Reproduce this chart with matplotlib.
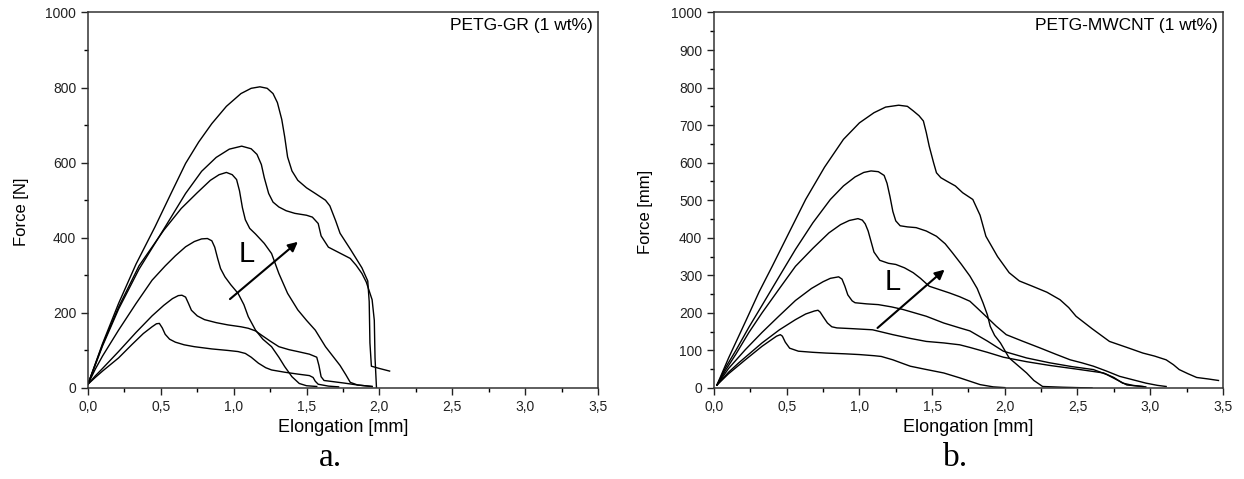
import matplotlib
matplotlib.use("Agg")
import matplotlib.pyplot as plt
from matplotlib.ticker import MultipleLocator, FuncFormatter

plt.rcParams['font.family'] = ['Liberation Sans', 'DejaVu Sans']

# ---- panel a: PETG-GR (1 wt%) ----
a1_x = [0.0, 0.05, 0.10, 0.21, 0.30, 0.38, 0.44, 0.47, 0.49, 0.51, 0.53, 0.56, 0.60, 0.66, 0.73, 0.85, 0.96, 1.03, 1.08, 1.12, 1.17, 1.22, 1.26, 1.35, 1.44, 1.52, 1.545, 1.56, 1.58, 1.65, 1.72]
a1_y = [10, 28, 45, 80, 115, 145, 163, 171, 172, 160, 143, 130, 122, 115, 110, 104, 100, 97, 92, 82, 66, 54, 48, 42, 37, 33, 28, 18, 10, 5, 3]
a2_x = [0.0, 0.05, 0.10, 0.21, 0.33, 0.44, 0.52, 0.58, 0.62, 0.645, 0.67, 0.69, 0.71, 0.75, 0.80, 0.88, 0.96, 1.05, 1.10, 1.15, 1.19, 1.25, 1.31, 1.38, 1.44, 1.52, 1.57, 1.585, 1.60, 1.62, 1.70, 1.76, 1.85, 1.95]
a2_y = [10, 32, 52, 97, 148, 192, 220, 238, 246, 247, 242, 225, 207, 192, 182, 174, 168, 163, 159, 152, 141, 125, 110, 102, 97, 90, 82, 60, 30, 20, 16, 13, 8, 4]
a3_x = [0.0, 0.05, 0.10, 0.21, 0.33, 0.44, 0.53, 0.60, 0.67, 0.73, 0.78, 0.82, 0.85, 0.87, 0.89, 0.91, 0.94, 0.98, 1.03, 1.07, 1.10, 1.15, 1.20, 1.26, 1.31, 1.35, 1.40, 1.45, 1.50, 1.57]
a3_y = [10, 50, 85, 154, 225, 287, 325, 352, 376, 390, 397, 398, 392, 375, 345, 318, 296, 275, 252, 222, 190, 154, 130, 110, 82, 57, 30, 12, 6, 4]
a4_x = [0.0, 0.10, 0.21, 0.35, 0.52, 0.64, 0.75, 0.84, 0.90, 0.95, 0.99, 1.02, 1.04, 1.06, 1.08, 1.11, 1.15, 1.21, 1.26, 1.31, 1.37, 1.44, 1.50, 1.56, 1.63, 1.68, 1.73, 1.77, 1.80, 1.85, 1.95]
a4_y = [10, 115, 215, 325, 420, 478, 520, 553, 568, 574, 568, 555, 525, 480, 448, 425, 410, 385, 358, 305, 252, 208, 180, 154, 110, 85, 60, 35, 15, 8, 4]
a5_x = [0.0, 0.10, 0.21, 0.35, 0.53, 0.67, 0.78, 0.88, 0.97, 1.055, 1.12, 1.16, 1.19, 1.21, 1.24, 1.27, 1.31, 1.36, 1.42, 1.50, 1.54, 1.58, 1.60, 1.65, 1.73, 1.80, 1.84, 1.88, 1.91, 1.95, 1.965, 1.97, 1.98]
a5_y = [10, 112, 210, 316, 429, 518, 577, 614, 636, 644, 637, 622, 595, 560, 518, 495, 482, 472, 465, 460, 455, 438, 405, 375, 359, 345, 327, 305, 282, 235, 180, 80, 0]
a6_x = [0.0, 0.10, 0.21, 0.33, 0.46, 0.57, 0.67, 0.76, 0.85, 0.95, 1.05, 1.12, 1.18, 1.23, 1.27, 1.30, 1.33, 1.35, 1.37, 1.40, 1.44, 1.50, 1.56, 1.63, 1.66, 1.70, 1.73, 1.80, 1.88, 1.92, 1.93, 1.935, 1.945, 2.00, 2.07]
a6_y = [10, 118, 225, 330, 429, 518, 598, 655, 704, 750, 784, 798, 802, 798, 784, 760, 715, 669, 615, 578, 553, 533, 518, 500, 485, 445, 412, 370, 320, 285, 230, 120, 58, 52, 45]

# ---- panel b: PETG-MWCNT (1 wt%) ----
b1_x = [0.02, 0.10, 0.215, 0.33, 0.40, 0.43, 0.456, 0.47, 0.49, 0.52, 0.58, 0.68, 0.77, 0.90, 1.00, 1.10, 1.15, 1.23, 1.30, 1.35, 1.45, 1.58, 1.69, 1.76, 1.83, 1.92, 2.0]
b1_y = [8, 38, 75, 111, 130, 138, 142, 138, 122, 106, 98, 95, 93, 91, 89, 86, 84, 75, 65, 58, 50, 40, 27, 18, 9, 3, 1]
b2_x = [0.02, 0.10, 0.17, 0.33, 0.45, 0.56, 0.63, 0.69, 0.715, 0.73, 0.75, 0.78, 0.81, 0.845, 0.95, 1.09, 1.23, 1.35, 1.46, 1.58, 1.69, 1.76, 1.88, 1.99, 2.15, 2.31, 2.50, 2.68, 2.75, 2.81, 2.88, 2.95]
b2_y = [8, 42, 67, 120, 155, 182, 197, 205, 207, 202, 190, 173, 163, 160, 158, 155, 142, 132, 124, 120, 115, 108, 95, 82, 70, 60, 50, 40, 28, 13, 7, 4]
b3_x = [0.02, 0.10, 0.215, 0.33, 0.445, 0.56, 0.67, 0.75, 0.80, 0.857, 0.88, 0.90, 0.92, 0.95, 0.97, 1.05, 1.13, 1.22, 1.30, 1.38, 1.46, 1.58, 1.69, 1.76, 1.88, 1.99, 2.15, 2.31, 2.46, 2.61, 2.70, 2.77, 2.84, 2.97]
b3_y = [8, 52, 102, 148, 191, 233, 265, 283, 292, 296, 290, 271, 248, 232, 227, 224, 222, 216, 209, 200, 191, 173, 160, 152, 125, 98, 80, 67, 57, 49, 36, 22, 8, 3]
b4_x = [0.02, 0.08, 0.15, 0.24, 0.33, 0.45, 0.56, 0.68, 0.79, 0.87, 0.93, 0.99, 1.02, 1.04, 1.06, 1.08, 1.10, 1.14, 1.20, 1.25, 1.31, 1.37, 1.42, 1.48, 1.55, 1.62, 1.69, 1.76, 1.81, 1.87, 1.94, 2.01, 2.12, 2.24, 2.35, 2.45, 2.53, 2.61, 2.70, 2.79, 2.88, 2.97, 3.05, 3.11]
b4_y = [8, 48, 90, 148, 200, 265, 324, 372, 413, 435, 446, 451, 447, 437, 418, 390, 362, 340, 332, 329, 320, 307, 292, 271, 262, 253, 243, 231, 213, 191, 165, 142, 125, 107, 90, 75, 67, 58, 45, 31, 22, 13, 7, 4]
b5_x = [0.02, 0.08, 0.15, 0.24, 0.33, 0.45, 0.56, 0.68, 0.80, 0.89, 0.97, 1.03, 1.08, 1.13, 1.17, 1.19, 1.21, 1.23, 1.25, 1.28, 1.33, 1.39, 1.46, 1.53, 1.59, 1.64, 1.70, 1.76, 1.81, 1.85, 1.88, 1.90, 1.93, 1.97, 2.03, 2.09, 2.15, 2.20, 2.26, 2.4, 2.6]
b5_y = [8, 55, 100, 162, 220, 298, 369, 440, 502, 538, 562, 574, 578, 576, 566, 545, 510, 470, 445, 432, 429, 427, 418, 404, 384, 360, 330, 298, 265, 227, 195, 164, 140, 120, 80, 60, 40, 20, 4, 2, 0]
b6_x = [0.02, 0.10, 0.22, 0.31, 0.40, 0.52, 0.63, 0.76, 0.89, 1.00, 1.10, 1.18, 1.27, 1.33, 1.37, 1.41, 1.44, 1.46, 1.48, 1.51, 1.53, 1.56, 1.60, 1.66, 1.71, 1.78, 1.83, 1.87, 1.95, 2.03, 2.10, 2.19, 2.29, 2.38, 2.44, 2.49, 2.60, 2.72, 2.84, 2.95, 3.03, 3.11, 3.16, 3.20, 3.26, 3.32, 3.40, 3.47]
b6_y = [8, 80, 180, 256, 324, 417, 502, 588, 662, 706, 733, 748, 753, 750, 738, 725, 711, 680, 644, 600, 573, 560, 551, 538, 520, 502, 460, 404, 350, 307, 285, 271, 255, 235, 214, 191, 158, 124, 108, 93, 85, 75, 62, 49, 38, 28, 24, 20]

panels = [
    dict(curves=[(a1_x, a1_y), (a2_x, a2_y), (a3_x, a3_y), (a4_x, a4_y), (a5_x, a5_y), (a6_x, a6_y)],
         ylabel='Force [N]', title='PETG-GR (1 wt%)', ymajor=200, yminor=100,
         arrow=((0.96, 232), (1.455, 394)), L=(1.088, 357), tag='a.'),
    dict(curves=[(b1_x, b1_y), (b2_x, b2_y), (b3_x, b3_y), (b4_x, b4_y), (b5_x, b5_y), (b6_x, b6_y)],
         ylabel='Force [mm]', title='PETG-MWCNT (1 wt%)', ymajor=100, yminor=50,
         arrow=((1.11, 155), (1.60, 320)), L=(1.23, 281), tag='b.'),
]

fig = plt.figure(figsize=(12.44, 4.79), dpi=100)
boxes = [[0.0707, 0.190, 0.410, 0.784], [0.574, 0.190, 0.409, 0.784]]
tag_x = [0.266, 0.768]

comma = FuncFormatter(lambda v, p: f'{v:.1f}'.replace('.', ','))

for box, p, tx in zip(boxes, panels, tag_x):
    ax = fig.add_axes(box)
    for xs, ys in p['curves']:
        ax.plot(xs, ys, color='black', linewidth=1.0)
    ax.set_xlim(0, 3.5)
    ax.set_ylim(0, 1000)
    ax.xaxis.set_major_locator(MultipleLocator(0.5))
    ax.xaxis.set_minor_locator(MultipleLocator(0.25))
    ax.xaxis.set_major_formatter(comma)
    ax.yaxis.set_major_locator(MultipleLocator(p['ymajor']))
    ax.yaxis.set_minor_locator(MultipleLocator(p['yminor']))
    ax.tick_params(which='major', direction='out', length=5, width=1.0, labelsize=10, colors='#222222')
    ax.tick_params(which='minor', direction='out', length=3, width=1.0)
    for s in ax.spines.values():
        s.set_linewidth(1.1)
        s.set_color('#333333')
    ax.set_xlabel('Elongation [mm]', fontsize=13, labelpad=4)
    ax.set_ylabel(p['ylabel'], fontsize=12, labelpad=12)
    ax.yaxis.set_label_coords(-0.115 if p['tag'] == 'a.' else -0.12, 0.47)
    ax.text(0.99, 0.985, p['title'], transform=ax.transAxes, ha='right', va='top', fontsize=12.5)

    (x0, y0), (x1, y1) = p['arrow']
    ax.annotate('', xy=(x1, y1), xytext=(x0, y0),
                arrowprops=dict(arrowstyle='-|>', color='black', lw=1.5, mutation_scale=14))
    ax.text(p['L'][0], p['L'][1], 'L', fontsize=21, ha='center', va='center')
    fig.text(tx, 0.045, p['tag'], ha='center', va='center',
             fontsize=24, family='Liberation Serif')

fig.savefig('out.png', dpi=100)
